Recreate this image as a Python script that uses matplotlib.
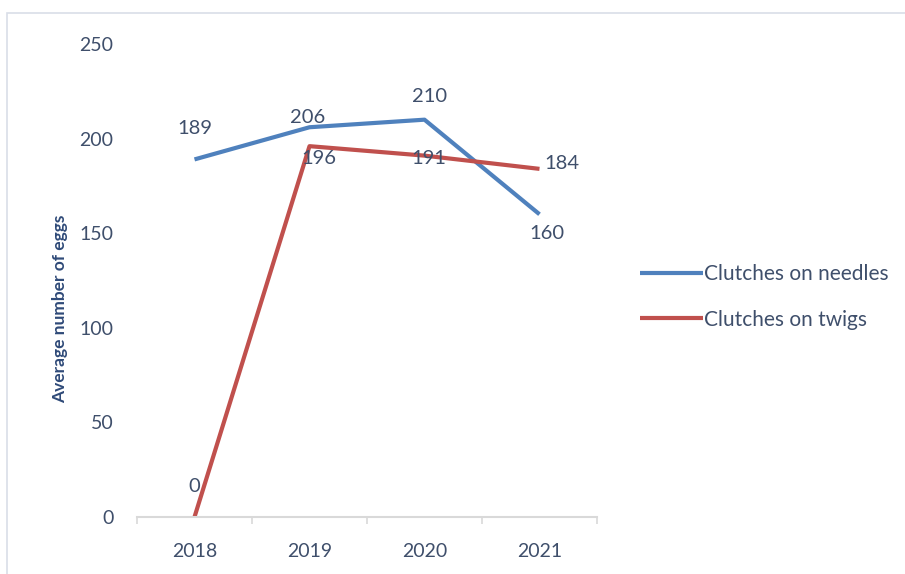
import matplotlib.pyplot as plt
from matplotlib.patches import Rectangle

years = ['2018', '2019', '2020', '2021']
needles = [189, 206, 210, 160]
twigs = [0, 196, 191, 184]

# label offsets in points (dx, dy) relative to each data point
needles_off = [(0, 22), (-1, 7), (4, 17), (5, -14)]
twigs_off = [(0, 22), (7, -9), (3, -2), (16, 4)]

plt.rcParams['font.family'] = ['Lato', 'DejaVu Sans']
txt = '#3F4F6B'
blue = '#4F81BD'
red = '#C0504D'

fig = plt.figure(figsize=(9.05, 5.74), dpi=100)
fig.add_artist(Rectangle((7/905, -0.01), 1.0, 1 - 13/574 + 0.01, transform=fig.transFigure,
                         fill=False, edgecolor='#D9DEE8', lw=1.2))
ax = fig.add_axes([137/905, 1 - 517/574, 460/905, (517 - 44)/574])

x = range(len(years))
ax.plot(x, needles, color=blue, lw=3, label='Clutches on needles', solid_capstyle='butt')
ax.plot(x, twigs, color=red, lw=3, label='Clutches on twigs', solid_capstyle='butt')

for i, v in enumerate(needles):
    ax.annotate(str(v), (i, v), xytext=needles_off[i], textcoords='offset points',
                ha='center', va='center', fontsize=14.5, color=txt)
for i, v in enumerate(twigs):
    ax.annotate(str(v), (i, v), xytext=twigs_off[i], textcoords='offset points',
                ha='center', va='center', fontsize=14.5, color=txt)

ax.set_xlim(-0.5, 3.5)
ax.set_ylim(0, 250)
ax.set_yticks([0, 50, 100, 150, 200, 250])
ax.set_xticks(list(x))
ax.set_xticklabels(years)
ax.set_xticks([-0.5, 0.5, 1.5, 2.5, 3.5], minor=True)
ax.tick_params(axis='x', which='major', length=0, pad=19, labelsize=14, labelcolor=txt)
ax.tick_params(axis='x', which='minor', length=5, color='#D9D9D9', width=1.2)
ax.tick_params(axis='y', length=0, pad=17, labelsize=14, labelcolor=txt)
for s in ['top', 'right', 'left']:
    ax.spines[s].set_visible(False)
ax.spines['bottom'].set_color('#D9D9D9')
ax.spines['bottom'].set_linewidth(1.5)
ax.set_ylabel('Average number of eggs', fontsize=12.5, fontweight='bold', color='#2F4A78')
ax.yaxis.set_label_coords(-0.15, 0.44)

fig.legend(loc='center left', bbox_to_anchor=(640/905, 1 - 297/574), frameon=False,
           fontsize=15, handlelength=3.0, handletextpad=0.05, labelspacing=1.2,
           borderpad=0, borderaxespad=0, labelcolor=txt)

fig.savefig('out.png', dpi=100)
